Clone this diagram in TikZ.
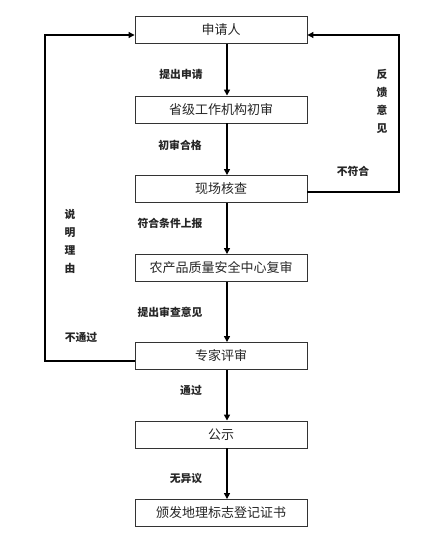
\documentclass[tikz,border=0pt]{standalone}
\usepackage{fontspec}
\setmainfont{Noto Sans CJK SC}
\usetikzlibrary{arrows.meta}
\begin{document}
\begin{tikzpicture}[x=1pt,y=-1pt,
  stepbox/.style={draw=black!80,line width=0.9pt,minimum width=172pt,minimum height=27pt,inner sep=0pt,font=\fontsize{13}{15}\selectfont,text=black!85},
  lbl/.style={font=\fontsize{10.8}{12}\selectfont\bfseries,inner sep=0pt,text=black!85},
  vlbl/.style={font=\fontsize{10.8}{18}\selectfont\bfseries,inner sep=0pt,align=center,text=black!85},
  flow/.style={line width=1.6pt,-{Triangle[length=6pt,width=6pt]}},
  loop/.style={line width=1.1pt,-{Triangle[length=6pt,width=6pt]}}]
\useasboundingbox (0,0) rectangle (430,548);
\fill[white] (0,0) rectangle (430,548);
\node[stepbox] (b1) at (221,30) {申请人};
\node[stepbox] (b2) at (221,109.5) {省级工作机构初审};
\node[stepbox] (b3) at (221,189) {现场核查};
\node[stepbox] (b4) at (221,268) {农产品质量安全中心复审};
\node[stepbox] (b5) at (221,356) {专家评审};
\node[stepbox] (b6) at (221,434.5) {公示};
\node[stepbox] (b7) at (221,513) {颁发地理标志登记证书};
\draw[flow] (b1.south -| 227,0) -- (b2.north -| 227,0);
\draw[flow] (b2.south -| 227,0) -- (b3.north -| 227,0);
\draw[flow] (b3.south -| 227,0) -- (b4.north -| 227,0);
\draw[flow] (b4.south -| 227,0) -- (b5.north -| 227,0);
\draw[flow] (b5.south -| 227,0) -- (b6.north -| 227,0);
\draw[flow] (b6.south -| 227,0) -- (b7.north -| 227,0);
\coordinate (lt) at (45,35);
\coordinate (rt) at (399,35);
\draw[loop] (b5.west |- 0,361) -| (lt) -- (b1.west |- lt);
\draw[loop] (b3.east |- 0,192) -| (rt) -- (b1.east |- rt);
\node[lbl] (l1) at (181,74) {提出申请};
\node[lbl] (l2) at (180,145) {初审合格};
\node[lbl] (l3) at (353,171) {不符合};
\node[vlbl] (l4) at (382,101) {反\\馈\\意\\见};
\node[lbl] (l5) at (170,223) {符合条件上报};
\node[vlbl] (l6) at (70,241.5) {说\\明\\理\\由};
\node[lbl] (l7) at (170,312) {提出审查意见};
\node[lbl] (l8) at (81,337) {不通过};
\node[lbl] (l9) at (191,390) {通过};
\node[lbl] (l10) at (186,478) {无异议};
\end{tikzpicture}
\end{document}
